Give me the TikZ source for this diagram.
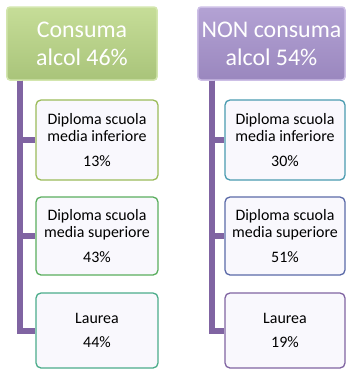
\documentclass[tikz,border=0pt]{standalone}
\usepackage{fontspec}
\setmainfont{Carlito}
\usetikzlibrary{positioning}
\definecolor{lineviolet}{HTML}{8064A2}
\definecolor{gA}{HTML}{C6DD98}
\definecolor{gB}{HTML}{A9C47A}
\definecolor{gBorder}{HTML}{D3E6AE}
\definecolor{pA}{HTML}{B3A2D4}
\definecolor{pB}{HTML}{9A87BE}
\definecolor{pBorder}{HTML}{CDBFE6}
\definecolor{boxfill}{HTML}{F9F8FD}
\definecolor{bc1}{HTML}{9BBB59}
\definecolor{bc2}{HTML}{5AAE5E}
\definecolor{bc3}{HTML}{4BAC8A}
\definecolor{bc4}{HTML}{4A9BB0}
\definecolor{bc5}{HTML}{5B6AA8}
\definecolor{bc6}{HTML}{8064A2}
\tikzset{
  header/.style={rectangle, rounded corners=3bp, draw=#1, line width=1.5bp, minimum height=73bp, align=center, text=white, font=\fontsize{24}{28}\selectfont, inner sep=0pt},
  child/.style={rectangle, rounded corners=5bp, draw=#1, line width=1.3bp, fill=boxfill, align=center, font=\fontsize{16}{18}\selectfont, inner sep=0pt, minimum width=122bp},
  tree/.style={draw=lineviolet, line width=6bp}
}
\begin{document}
\begin{tikzpicture}[x=1bp,y=-1bp]
\useasboundingbox (0,0) rectangle (347,369);
% headers
\node[header=gBorder, top color=gA, bottom color=gB, minimum width=150bp] (h1) at (82,43.5) {Consuma\\alcol 46\%};
\node[header=pBorder, top color=pA, bottom color=pB, minimum width=147bp] (h2) at (271.5,43.5) {NON consuma\\alcol 54\%};
% left children
\node[child=bc1, minimum height=80bp] (c11) at (97,140) {Diploma scuola\\media inferiore\\[7bp]13\%};
\node[child=bc2, minimum height=78bp] (c12) at (97,236) {Diploma scuola\\media superiore\\[7bp]43\%};
\node[child=bc3, minimum height=75bp] (c13) at (97,330.5) {Laurea\\[6bp]44\%};
% right children
\node[child=bc4, minimum height=80bp, minimum width=120bp] (c21) at (285,140) {Diploma scuola\\media inferiore\\[7bp]30\%};
\node[child=bc5, minimum height=78bp, minimum width=120bp] (c22) at (285,236) {Diploma scuola\\media superiore\\[7bp]51\%};
\node[child=bc6, minimum height=75bp, minimum width=120bp] (c23) at (285,330.5) {Laurea\\[6bp]19\%};
% tree lines
\coordinate (t1) at (20,80.5);
\coordinate (t2) at (212,80.5);
\draw[tree] (t1) |- (c11.west);
\draw[tree] (t1) |- (c12.west);
\draw[tree] (t1) |- (c13.west);
\draw[tree] (t2) |- (c21.west);
\draw[tree] (t2) |- (c22.west);
\draw[tree] (t2) |- (c23.west);
\end{tikzpicture}
\end{document}
